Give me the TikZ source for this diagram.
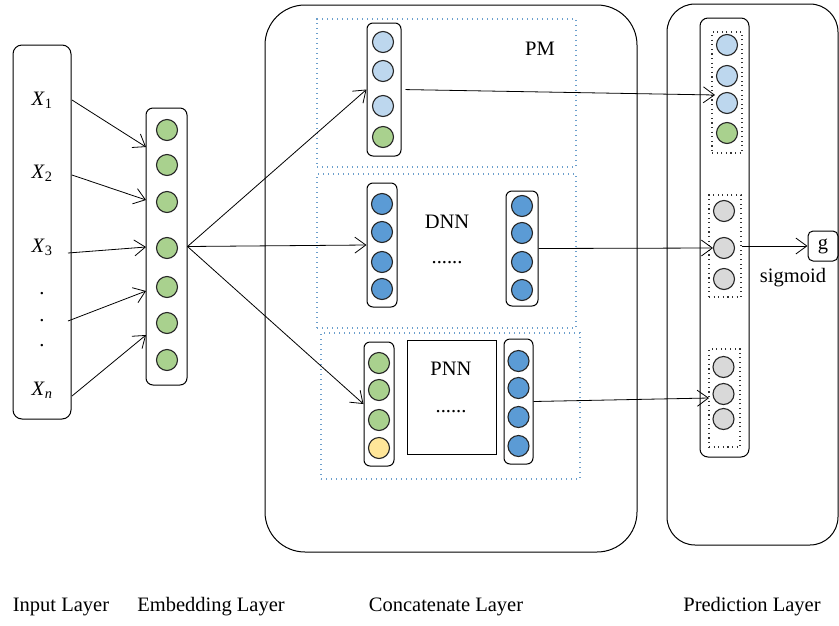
\documentclass[tikz,border=0pt]{standalone}
\usepackage{fontspec}
\setmainfont{Liberation Serif}
\usetikzlibrary{arrows.meta}
\definecolor{cgreen}{HTML}{A9D18E}
\definecolor{clblue}{HTML}{BDD7EE}
\definecolor{cblue}{HTML}{5B9BD5}
\definecolor{cyellow}{HTML}{FFE699}
\definecolor{cgray}{HTML}{D9D9D9}
\definecolor{dotblue}{HTML}{6C9FCC}
\begin{document}
\begin{tikzpicture}[x=1pt,y=-1pt,
 font=\fontsize{20.5}{24}\selectfont,
 circ/.style={circle, draw=black!85, line width=1.1pt, minimum size=21pt, inner sep=0pt},
 col/.style={draw, rounded corners=6pt, line width=1pt, inner sep=0pt},
 big/.style={draw, line width=1pt, inner sep=0pt},
 dotbox/.style={draw=dotblue, line width=1.4pt, dash pattern=on 1.4pt off 3.6pt, inner sep=0pt},
 kdot/.style={draw=black!80, line width=1.1pt, dash pattern=on 1.1pt off 3.5pt, inner sep=0pt},
 arr/.style={-{Straight Barb[length=11pt,width=16pt]}, line width=0.8pt},
 lbl/.style={inner sep=0pt}]
\useasboundingbox (0,0) rectangle (839,625);

% big boxes
\node[big, rounded corners=9pt, minimum width=58pt, minimum height=374pt] (inbox) at (42,232) {};
\node[big, rounded corners=40pt, minimum width=372pt, minimum height=547pt] (concat) at (451,278.5) {};
\node[big, rounded corners=28pt, minimum width=171pt, minimum height=541pt] (pred) at (752.5,274.5) {};

% input labels
\node[lbl] (x1) at (42,100) {\textit{X}\textsubscript{1}};
\node[lbl] (x2) at (42,173) {\textit{X}\textsubscript{2}};
\node[lbl] (x3) at (42,247) {\textit{X}\textsubscript{3}};
\node[lbl] (xd1) at (42,294) {.};
\node[lbl] (xd2) at (42,321) {.};
\node[lbl] (xd3) at (42,346) {.};
\node[lbl] (xn) at (42,390) {\textit{X}\textsubscript{\textit{n}}};

% embedding
\node[col, rounded corners=7pt, minimum width=41pt, minimum height=277pt] (emb) at (166.5,246.5) {};
\foreach \y [count=\i] in {130,165,202,248,287,323,360}
  \node[circ, fill=cgreen] (e\i) at (167,\y) {};

% dotted groups in concatenate layer
\node[dotbox, minimum width=259pt, minimum height=148pt] (pmgrp) at (446.5,93) {};
\node[dotbox, minimum width=259pt, minimum height=154pt] (dnngrp) at (446.5,251) {};
\node[dotbox, minimum width=259pt, minimum height=146pt] (pnngrp) at (450.5,406) {};

% PM
\node[col, minimum width=34pt, minimum height=133pt] (pm) at (384,89.5) {};
\node[circ, fill=clblue] (pm1) at (383,42) {};
\node[circ, fill=clblue] (pm2) at (383,71) {};
\node[circ, fill=clblue] (pm3) at (383,106) {};
\node[circ, fill=cgreen] (pm4) at (383,137) {};
\node[lbl] (pmlabel) at (540,49) {PM};

% DNN
\node[col, minimum width=30pt, minimum height=124pt] (dnnL) at (382,245) {};
\foreach \y [count=\i] in {204,232,262,289}
  \node[circ, fill=cblue] (dl\i) at (382,\y) {};
\node[col, minimum width=32pt, minimum height=115pt] (dnnR) at (522,248.5) {};
\foreach \y [count=\i] in {206,233,262,290}
  \node[circ, fill=cblue] (dr\i) at (522,\y) {};
\node[lbl] (dnnlabel) at (447,222) {DNN};
\node[lbl, anchor=base] (dnndots) at (447,263) {......};

% PNN
\node[col, minimum width=30pt, minimum height=124pt] (pnnL) at (379,404) {};
\node[circ, fill=cgreen] (pl1) at (379,363) {};
\node[circ, fill=cgreen] (pl2) at (379,390) {};
\node[circ, fill=cgreen] (pl3) at (379,420) {};
\node[circ, fill=cyellow] (pl4) at (379,448) {};
\node[draw, line width=1pt, minimum width=89pt, minimum height=114pt, inner sep=0pt] (pnnbox) at (451.5,397) {};
\node[lbl] (pnnlabel) at (451,369) {PNN};
\node[lbl, anchor=base] (pnndots) at (451,412) {......};
\node[col, minimum width=29pt, minimum height=125pt] (pnnR) at (518.5,401.5) {};
\foreach \y [count=\i] in {361,388,417,446}
  \node[circ, fill=cblue] (pr\i) at (518.5,\y) {};

% prediction
\node[col, rounded corners=8pt, minimum width=49pt, minimum height=439pt] (pcol) at (724.5,237.5) {};
\node[kdot, minimum width=30pt, minimum height=121pt] (pg1) at (727,92.5) {};
\node[circ, fill=clblue] (q11) at (727,45) {};
\node[circ, fill=clblue] (q12) at (727,76) {};
\node[circ, fill=clblue] (q13) at (727,103) {};
\node[circ, fill=cgreen] (q14) at (727,133) {};
\node[kdot, minimum width=32pt, minimum height=102pt] (pg2) at (725,246) {};
\foreach \y [count=\i] in {211,248,279}
  \node[circ, fill=cgray] (q2\i) at (724,\y) {};
\node[kdot, minimum width=31pt, minimum height=98pt] (pg3) at (724.5,398) {};
\foreach \y [count=\i] in {367,394,419}
  \node[circ, fill=cgray] (q3\i) at (723.5,\y) {};
\node[draw, line width=1pt, rounded corners=5pt, minimum width=30pt, minimum height=30pt, inner sep=0pt] (g) at (823,246) {g};
\node[lbl] (sig) at (793,278) {sigmoid};

% bottom labels
\node[lbl] (lin) at (61,607) {Input Layer};
\node[lbl] (lemb) at (211,607) {Embedding Layer};
\node[lbl] (lcat) at (446,607) {Concatenate Layer};
\node[lbl] (lpred) at (752,607) {Prediction Layer};

% connector coordinates
\coordinate (s1) at (72,100);
\coordinate (s2) at (72,175);
\coordinate (s3) at (68,253);
\coordinate (s4) at (68,321);
\coordinate (s5) at (72,396);
\coordinate (t1) at (146,147);
\coordinate (t2) at (146,200);
\coordinate (t3) at (146,247);
\coordinate (t4) at (146,291);
\coordinate (t5) at (146,335);
\coordinate (u1) at (715,95);
\coordinate (u2) at (713,248);
\coordinate (u3) at (709,398);

\draw[arr] (s1) -- (t1);
\draw[arr] (s2) -- (t2);
\draw[arr] (s3) -- (t3);
\draw[arr] (s4) -- (t4);
\draw[arr] (s5) -- (t5);

\draw[arr] (emb.east) -- (pm.west);
\draw[arr] (emb.east) -- (dnnL.west);
\draw[arr] (emb.east) -- (pnnL.west);

\draw[arr, shorten <=4pt] (pm.east) -- (u1);
\draw[arr] (dnnR.east) -- (u2);
\draw[arr] (pnnR.east) -- (u3);
\draw[arr] (pg2.east) -- (g.west);
\end{tikzpicture}
\end{document}
